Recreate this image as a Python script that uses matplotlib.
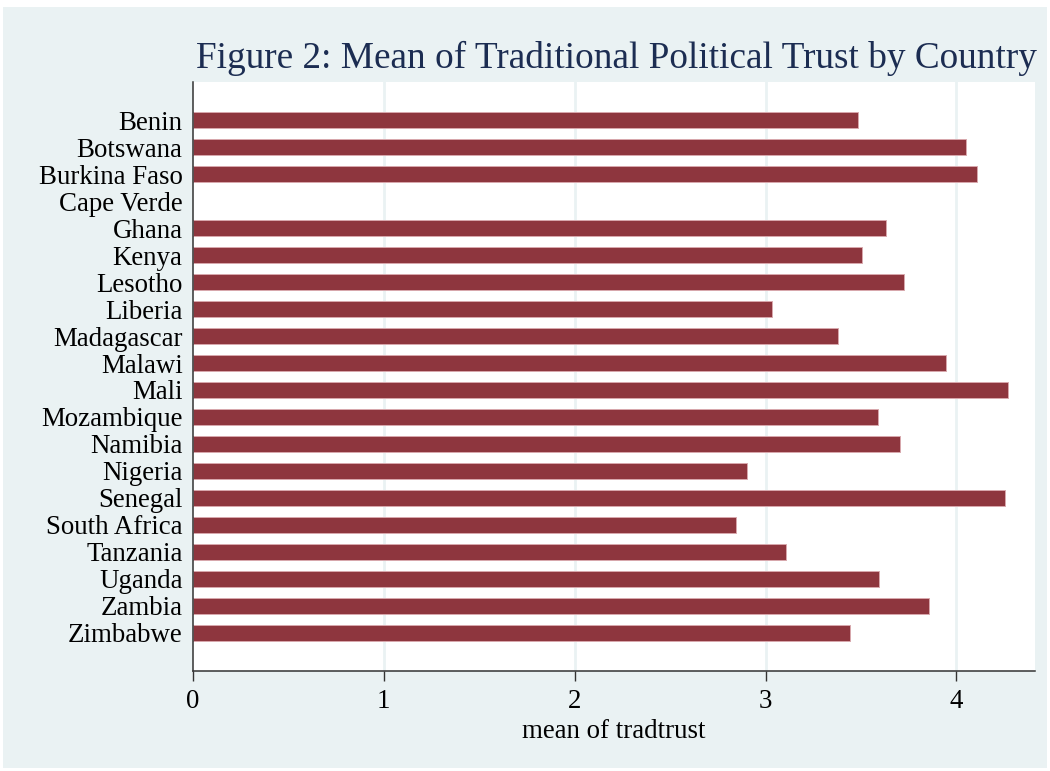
import numpy as np
import matplotlib
matplotlib.use("Agg")
import matplotlib.pyplot as plt
from matplotlib.patches import Rectangle

# data (Cape Verde has no value)
countries = ["Benin", "Botswana", "Burkina Faso", "Cape Verde", "Ghana", "Kenya",
             "Lesotho", "Liberia", "Madagascar", "Malawi", "Mali", "Mozambique",
             "Namibia", "Nigeria", "Senegal", "South Africa", "Tanzania", "Uganda",
             "Zambia", "Zimbabwe"]
tradtrust = [3.485, 4.052, 4.107, np.nan, 3.633, 3.504,
             3.728, 3.036, 3.382, 3.946, 4.271, 3.590,
             3.707, 2.904, 4.257, 2.846, 3.108, 3.597,
             3.855, 3.443]
xticks = [0, 1, 2, 3, 4]

plt.rcParams["font.family"] = ["Liberation Serif", "DejaVu Serif"]

W, H = 1050, 771
fig = plt.figure(figsize=(W / 100, H / 100), dpi=100, facecolor="white")

# stata-ish light background
bg = "#EAF2F3"
fig.patches.append(Rectangle((3 / W, 1 - 768 / H), 1044 / W, 761 / H,
                             transform=fig.transFigure, facecolor=bg,
                             edgecolor="none", zorder=-10))

ax = fig.add_axes([193 / W, 1 - 671 / H, (1035 - 193) / W, (671 - 82) / H])
ax.set_facecolor("white")

y = np.arange(len(countries))
ax.barh(y, tradtrust, height=0.6, color="#8E363E", edgecolor="#D8A8AD",
        linewidth=0.7, zorder=3)

ax.set_ylim(len(countries) - 1 + 1.41, -1.41)
ax.set_xlim(0, 4.412)
ax.set_yticks(y)
ax.set_yticklabels(countries)
ax.set_xticks(xticks)
ax.set_xticklabels([str(t) for t in xticks])

for t in xticks[1:]:
    ax.axvline(t, color=bg, linewidth=2, zorder=1)

for s in ["top", "right"]:
    ax.spines[s].set_visible(False)
for s in ["left", "bottom"]:
    ax.spines[s].set_color("#333333")
    ax.spines[s].set_linewidth(1.1)
    ax.spines[s].set_zorder(5)

ax.tick_params(axis="y", length=0, pad=7.5, labelsize=19.4)
ax.tick_params(axis="x", length=7.2, width=1, color="#333333", pad=5.5, labelsize=19.4)

fig.text((193 + 1035) / 2 / W + 2 / W, 1 - 68 / H,
         "Figure 2: Mean of Traditional Political Trust by Country",
         ha="center", va="baseline", fontsize=26.8, color="#1C2D52")
fig.text((193 + 1035) / 2 / W, 1 - 738 / H, "mean of tradtrust",
         ha="center", va="baseline", fontsize=19.4)

fig.savefig("out.png", dpi=100, facecolor="white")
